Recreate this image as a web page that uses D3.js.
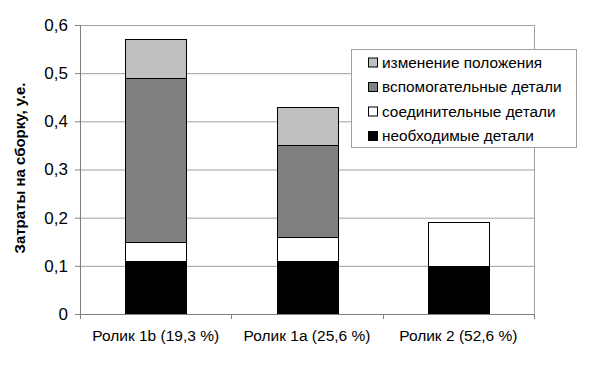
<!DOCTYPE html>
<html>
<head>
<meta charset="utf-8">
<script src="https://cdn.jsdelivr.net/npm/d3@7"></script>
<style>
  body { margin: 0; background: #fff; }
  text { font-family: "Liberation Sans", Arial, sans-serif; }
</style>
</head>
<body>
<div id="chart"></div>
<script>
// data
let categories = ["Ролик 1b (19,3 %)", "Ролик 1a (25,6 %)", "Ролик 2 (52,6 %)"];
let necessary = [0.11, 0.11, 0.10];     // необходимые детали
let connecting = [0.04, 0.05, 0.09];    // соединительные детали
let auxiliary = [0.34, 0.19, 0];        // вспомогательные детали
let position = [0.08, 0.08, 0];         // изменение положения
let yTicks = [0, 0.1, 0.2, 0.3, 0.4, 0.5, 0.6];

let seriesNames = ["необходимые детали", "соединительные детали", "вспомогательные детали", "изменение положения"];
let seriesKeys = ["nec", "con", "aux", "pos"];
let seriesColors = ["#000000", "#ffffff", "#808080", "#c0c0c0"];

let win_width = 596, win_height = 370;
let margin = {top: 25, right: 62, bottom: 56, left: 80};
let width = win_width - margin.left - margin.right;
let height = win_height - margin.top - margin.bottom;

let svg = d3.select("#chart").append("svg")
    .attr("width", win_width)
    .attr("height", win_height);

let g = svg.append("g")
    .attr("transform", "translate(" + margin.left + "," + margin.top + ")");

let table = categories.map(function(c, i) {
    return {cat: c, nec: necessary[i], con: connecting[i], aux: auxiliary[i], pos: position[i]};
});

let x = d3.scaleBand().domain(categories).range([0, width]).paddingInner(0.6).paddingOuter(0.3);
let y = d3.scaleLinear().domain([0, 0.6]).range([height, 0]);

// gridlines
g.selectAll(".grid")
    .data(yTicks.slice(1))
    .join("line")
    .attr("x1", 0).attr("x2", width)
    .attr("y1", d => y(d) + 0.5).attr("y2", d => y(d) + 0.5)
    .attr("stroke", "#a0a0a0").attr("stroke-width", 1);

// right border of plot area
g.append("line")
    .attr("x1", width + 0.5).attr("x2", width + 0.5)
    .attr("y1", 0).attr("y2", height)
    .attr("stroke", "#a0a0a0");

// stacked bars
let stack = d3.stack().keys(seriesKeys)(table);
g.selectAll(".layer")
    .data(stack)
    .join("g")
    .attr("fill", (d, i) => seriesColors[i])
    .selectAll("rect")
    .data(d => d.filter(p => p[1] - p[0] > 0))
    .join("rect")
    .attr("x", d => Math.round(x(d.data.cat)) + 0.5)
    .attr("width", Math.round(x.bandwidth()))
    .attr("y", d => Math.round(y(d[1])) + 0.5)
    .attr("height", d => Math.round(y(d[0])) - Math.round(y(d[1])))
    .attr("stroke", "#000")
    .attr("stroke-width", 1);

// Y axis
let yAxis = g.append("g")
    .call(d3.axisLeft(y).tickValues(yTicks).tickSize(5).tickSizeOuter(0)
        .tickFormat(d => d3.format(".1f")(d).replace(".", ",").replace(/^0,0$/, "0")));
yAxis.select(".domain").attr("stroke", "#808080");
yAxis.selectAll(".tick line").attr("stroke", "#808080");
yAxis.selectAll(".tick text").attr("font-size", 17).attr("fill", "#000").attr("x", -12);

// X axis
let xAxis = g.append("g")
    .attr("transform", "translate(0," + height + ")")
    .call(d3.axisBottom(x).tickSize(0).tickSizeOuter(0));
xAxis.select(".domain").attr("stroke", "#808080");
xAxis.selectAll(".tick text").attr("font-size", 15.5).attr("fill", "#000").attr("dy", "1.55em");

// category separator ticks
let sep = d3.range(categories.length + 1).map(i => i * width / categories.length);
g.selectAll(".sep")
    .data(sep)
    .join("line")
    .attr("x1", d => Math.round(d) + 0.5).attr("x2", d => Math.round(d) + 0.5)
    .attr("y1", height).attr("y2", height + 5)
    .attr("stroke", "#808080");

// Y axis label
svg.append("text")
    .attr("transform", "translate(25,168) rotate(-90)")
    .attr("text-anchor", "middle")
    .attr("font-size", 15)
    .attr("font-weight", "bold")
    .text("Затраты на сборку, у.е.");

// legend
let legend = svg.append("g").attr("transform", "translate(351,49)");
legend.append("rect")
    .attr("x", 0.5).attr("y", 0.5)
    .attr("width", 225).attr("height", 98)
    .attr("fill", "#fff").attr("stroke", "#a0a0a0");

let legendOrder = [3, 2, 1, 0];
let items = legend.selectAll(".item")
    .data(legendOrder)
    .join("g")
    .attr("transform", (d, i) => "translate(0," + (13.5 + i * 24.5) + ")");
items.append("rect")
    .attr("x", 17.5).attr("y", -4.5)
    .attr("width", 9).attr("height", 9)
    .attr("fill", d => seriesColors[d])
    .attr("stroke", "#000");
items.append("text")
    .attr("x", 31).attr("y", 0)
    .attr("dy", "0.35em")
    .attr("font-size", 15.4)
    .text(d => seriesNames[d]);
</script>
</body>
</html>
